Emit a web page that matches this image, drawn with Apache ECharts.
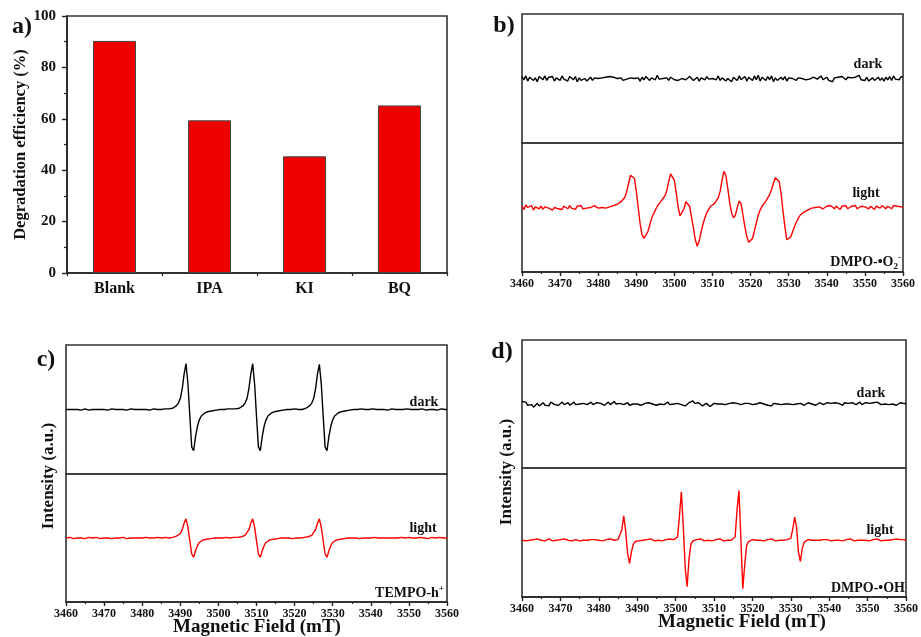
<!DOCTYPE html>
<html>
<head>
<meta charset="utf-8">
<script src="https://cdn.jsdelivr.net/npm/echarts/dist/echarts.min.js"></script>
<style>
html,body{margin:0;padding:0;background:#fff;}
#chart{width:921px;height:637px;}
</style>
</head>
<body>
<div id="chart"></div>
<script>
// ---------- Panel a: degradation efficiency ----------
const scavengers = ['Blank', 'IPA', 'KI', 'BQ'];
const efficiency = [90.3, 59.4, 45.4, 65.2];
const effTicks = [0, 20, 40, 60, 80, 100];

// ---------- EPR spectra: magnetic field grid 3460..3560 mT, step 0.5 ----------
const fieldTicks = [3460, 3470, 3480, 3490, 3500, 3510, 3520, 3530, 3540, 3550, 3560];
const field = [];
for (let k = 0; k <= 200; k++) field.push(3460 + k * 0.5);

// b) DMPO-•O2-  dark
const bDark = [
  0.03,-0.02,0.04,-0.04,0.02,0.05,-0.03,0.01,-0.05,0.03,0.00,-0.02,0.04,-0.03,0.02,-0.01,0.03,-0.04,0.01,0.02,
  -0.03,0.04,-0.01,0.02,-0.04,0.03,0.00,-0.02,0.03,-0.05,0.01,-0.03,-0.02,0.00,-0.04,-0.01,0.02,-0.03,0.01,-0.02,
  0.00,-0.02,0.01,-0.01,0.02,0.00,0.03,0.01,0.02,-0.01,0.00,-0.02,0.01,-0.03,0.00,-0.01,-0.04,0.01,-0.02,0.00,
  -0.03,0.01,-0.04,0.02,-0.02,0.03,0.00,-0.03,0.01,0.04,-0.02,0.05,-0.01,-0.04,0.00,-0.02,0.01,-0.03,0.02,0.00,
  -0.02,0.01,-0.03,-0.01,0.00,0.02,-0.02,0.01,0.03,0.00,-0.03,-0.01,0.02,-0.04,0.01,0.00,-0.02,0.03,-0.01,0.02,
  0.00,0.03,-0.02,0.04,-0.03,0.01,0.02,-0.04,0.00,0.03,-0.05,0.02,0.01,-0.03,0.04,-0.02,0.00,0.03,-0.04,0.02,
  0.01,-0.03,0.04,-0.02,0.05,-0.04,0.02,0.00,-0.03,0.03,-0.02,0.04,-0.05,0.01,-0.03,-0.06,0.02,-0.02,0.03,-0.04,
  0.01,-0.02,0.00,0.02,-0.03,0.01,-0.01,0.00,0.02,-0.02,0.01,-0.01,0.00,0.02,0.03,-0.01,0.01,0.04,-0.02,-0.04,
  0.02,-0.03,0.00,-0.05,0.01,-0.02,0.02,-0.01,0.03,0.00,-0.02,0.02,0.00,0.01,-0.01,0.02,0.03,0.05,-0.02,0.01,
  -0.03,0.02,-0.04,-0.02,0.01,-0.03,-0.01,0.02,-0.03,0.01,-0.04,0.02,-0.02,0.03,-0.03,0.04,-0.01,0.02,-0.02,0.03,
  0.02
];
// b) light
const bLight = [
  0.02,-0.03,0.04,0.00,-0.02,0.03,-0.04,0.01,0.03,-0.02,0.02,-0.03,0.01,0.04,-0.01,0.02,-0.04,0.00,0.03,-0.02,
  0.01,-0.03,0.02,0.00,-0.02,0.03,-0.01,0.01,-0.03,0.02,0.00,0.03,-0.02,0.01,-0.01,0.02,0.00,-0.02,0.03,0.01,
  -0.01,0.02,0.00,0.03,-0.01,0.02,0.01,0.03,0.03,0.02,0.05,0.07,0.09,0.11,0.16,0.25,0.38,0.50,0.53,0.45,
  0.25,0.00,-0.25,-0.42,-0.48,-0.46,-0.38,-0.28,-0.17,-0.10,-0.04,0.02,0.06,0.10,0.14,0.18,0.26,0.40,0.52,0.53,
  0.42,0.22,0.00,-0.13,-0.12,-0.02,0.09,0.11,0.02,-0.15,-0.32,-0.50,-0.60,-0.52,-0.38,-0.26,-0.16,-0.08,-0.03,0.02,
  0.04,0.06,0.09,0.15,0.25,0.42,0.56,0.50,0.30,0.08,-0.08,-0.16,-0.12,0.00,0.10,0.06,-0.12,-0.30,-0.45,-0.54,
  -0.55,-0.48,-0.36,-0.24,-0.12,-0.04,0.02,0.06,0.10,0.15,0.20,0.28,0.38,0.46,0.47,0.40,0.22,-0.05,-0.30,-0.50,
  -0.52,-0.46,-0.38,-0.30,-0.23,-0.17,-0.12,-0.09,-0.07,-0.05,-0.04,-0.03,-0.01,-0.02,0.00,-0.01,0.01,0.00,-0.02,0.01,
  0.02,-0.01,0.03,0.00,-0.02,0.02,0.01,-0.03,0.02,0.00,0.03,-0.02,0.01,0.02,-0.01,0.03,-0.02,0.00,0.02,-0.01,
  0.01,0.03,-0.02,0.02,0.00,-0.03,0.02,0.01,-0.01,0.03,0.00,-0.02,0.02,0.01,-0.02,0.03,0.00,0.02,-0.01,0.01,
  0.00
];
// c) TEMPO-h+  dark
const cDark = [
  0.00,0.01,0.00,-0.01,0.00,0.01,0.00,0.00,-0.01,0.00,0.01,0.00,-0.01,0.00,0.00,0.01,0.00,-0.01,0.00,0.01,
  0.00,0.00,-0.01,0.00,0.01,0.00,0.00,-0.01,0.00,0.01,0.00,0.00,-0.01,0.00,0.01,0.00,0.00,0.01,0.00,-0.01,
  0.00,0.01,0.00,0.00,-0.01,0.00,0.01,0.00,0.00,0.01,0.00,0.00,0.01,0.00,0.01,0.01,0.02,0.04,0.06,0.10,
  0.17,0.32,0.55,0.71,0.40,-0.10,-0.58,-0.64,-0.42,-0.26,-0.16,-0.10,-0.07,-0.05,-0.04,-0.03,-0.03,-0.02,-0.02,-0.01,
  -0.01,0.00,-0.01,0.00,0.00,0.01,0.00,0.01,0.01,0.01,0.01,0.02,0.04,0.06,0.10,0.17,0.32,0.55,0.71,0.40,
  -0.10,-0.58,-0.64,-0.42,-0.26,-0.16,-0.10,-0.07,-0.05,-0.04,-0.03,-0.03,-0.02,-0.02,-0.01,-0.01,0.00,-0.01,0.00,0.00,
  0.01,0.00,0.00,0.01,0.00,0.01,0.02,0.04,0.06,0.10,0.17,0.32,0.55,0.70,0.40,-0.10,-0.58,-0.64,-0.42,-0.26,
  -0.16,-0.10,-0.07,-0.05,-0.04,-0.03,-0.03,-0.02,-0.02,-0.01,-0.01,0.00,-0.01,0.00,0.00,0.01,0.00,0.00,-0.01,0.00,
  0.00,0.01,0.00,0.00,-0.01,0.00,0.01,0.00,0.00,-0.01,0.00,0.01,0.00,0.00,0.01,0.00,-0.01,0.00,0.00,0.01,
  0.00,0.00,-0.01,0.00,0.01,0.00,0.00,0.01,0.00,-0.01,0.00,0.00,0.01,0.00,0.00,-0.01,0.00,0.01,0.00,0.00,
  0.00
];
// c) light
const cLight = [
  0.00,0.00,0.01,0.00,-0.01,0.00,0.00,0.01,0.00,0.00,-0.01,0.00,0.01,0.00,0.00,0.00,0.01,0.00,-0.01,0.00,
  0.00,0.01,0.00,0.00,-0.01,0.00,0.00,0.01,0.00,0.00,0.01,0.00,-0.01,0.00,0.00,0.01,0.00,0.00,0.00,-0.01,
  0.00,0.00,0.01,0.00,0.00,-0.01,0.00,0.00,0.01,0.00,0.00,0.00,0.01,0.00,0.00,0.01,0.01,0.02,0.03,0.04,
  0.07,0.13,0.23,0.30,0.17,-0.04,-0.25,-0.30,-0.20,-0.12,-0.07,-0.05,-0.03,-0.02,-0.02,-0.01,-0.01,-0.01,0.00,0.00,
  0.00,-0.01,0.00,0.00,0.01,0.00,0.00,0.00,0.01,0.00,0.01,0.01,0.02,0.03,0.04,0.07,0.13,0.23,0.30,0.17,
  -0.04,-0.25,-0.30,-0.20,-0.12,-0.07,-0.05,-0.03,-0.02,-0.02,-0.01,-0.01,-0.01,0.00,0.00,0.00,0.01,0.00,0.00,-0.01,
  0.00,0.00,0.01,0.00,0.00,0.01,0.01,0.02,0.03,0.04,0.07,0.13,0.23,0.30,0.17,-0.04,-0.25,-0.30,-0.20,-0.12,
  -0.07,-0.05,-0.03,-0.02,-0.02,-0.01,-0.01,-0.01,0.00,0.00,0.00,0.01,0.00,0.00,-0.01,0.00,0.00,0.01,0.00,0.00,
  0.00,0.00,0.01,0.00,0.00,-0.01,0.00,0.01,0.00,0.00,0.00,0.01,0.00,-0.01,0.00,0.00,0.01,0.00,0.00,0.00,
  0.01,0.00,0.00,-0.01,0.00,0.00,0.01,0.00,0.00,0.00,-0.01,0.00,0.01,0.00,0.00,0.00,0.01,0.00,0.00,0.00,
  0.00
];
// d) DMPO-•OH  dark
const dDark = [
  0.04,0.01,0.03,-0.02,-0.04,-0.01,-0.05,-0.02,0.01,-0.03,0.00,0.02,-0.02,0.01,-0.03,0.03,0.00,-0.01,0.02,-0.02,
  0.01,0.03,-0.01,0.00,0.02,-0.02,0.01,0.03,-0.01,0.02,0.00,-0.02,0.01,0.02,-0.01,0.00,0.03,-0.01,0.01,0.02,
  -0.01,0.01,0.02,-0.02,0.00,0.03,-0.01,0.01,0.04,0.00,-0.02,0.01,0.03,-0.01,0.00,0.02,-0.02,0.01,0.00,0.02,
  0.00,0.01,-0.02,0.00,0.01,-0.01,0.02,-0.01,0.00,0.02,-0.02,-0.03,0.00,0.02,-0.01,0.01,0.03,-0.01,0.02,0.00,
  -0.02,0.01,0.03,-0.01,0.02,-0.03,0.00,0.02,-0.01,0.05,0.01,-0.02,0.02,0.00,-0.03,-0.01,0.01,-0.02,-0.04,-0.01,
  0.01,-0.02,0.00,0.02,0.00,0.01,-0.01,0.02,0.01,-0.01,0.02,0.00,0.01,0.02,-0.01,0.00,0.01,-0.02,0.01,0.00,
  -0.01,0.02,0.00,0.01,0.02,-0.01,0.00,-0.03,-0.02,0.00,-0.03,0.01,-0.01,0.00,0.02,-0.01,0.01,0.00,-0.02,0.00,
  0.01,-0.01,0.02,0.00,-0.01,0.01,0.00,-0.02,0.01,0.02,-0.01,0.00,0.01,-0.02,0.00,0.02,0.01,-0.01,0.00,0.02,
  -0.01,0.01,0.00,0.02,-0.01,0.01,0.00,-0.02,0.02,0.00,0.01,-0.01,0.02,0.00,-0.01,0.01,0.03,-0.01,0.00,0.02,
  0.00,0.01,-0.01,0.02,0.01,0.03,0.00,-0.01,0.02,0.00,0.01,-0.01,0.02,0.00,0.01,-0.02,0.01,0.02,0.00,0.01,
  0.00
];
// d) light
const dLight = [
  -0.12,-0.10,-0.13,-0.11,-0.12,-0.14,-0.11,-0.12,-0.10,-0.13,-0.12,-0.11,-0.13,-0.12,-0.10,-0.12,-0.13,-0.11,-0.12,-0.13,
  -0.11,-0.12,-0.10,-0.13,-0.12,-0.11,-0.13,-0.12,-0.11,-0.12,-0.13,-0.11,-0.12,-0.10,-0.12,-0.13,-0.11,-0.12,-0.11,-0.13,
  -0.12,-0.11,-0.13,-0.12,-0.11,-0.12,-0.10,-0.11,-0.12,-0.11,-0.11,-0.09,0.04,0.26,0.02,-0.32,-0.48,-0.30,-0.18,-0.14,
  -0.12,-0.13,-0.11,-0.12,-0.13,-0.11,-0.12,-0.10,-0.12,-0.13,-0.11,-0.12,-0.11,-0.13,-0.12,-0.11,-0.12,-0.10,-0.12,-0.11,
  -0.11,-0.07,0.25,0.63,0.10,-0.55,-0.84,-0.40,-0.18,-0.13,-0.12,-0.11,-0.12,-0.10,-0.12,-0.13,-0.11,-0.12,-0.11,-0.13,
  -0.12,-0.11,-0.12,-0.10,-0.12,-0.13,-0.11,-0.12,-0.11,-0.12,-0.11,-0.07,0.35,0.65,-0.10,-0.87,-0.50,-0.20,-0.14,-0.12,
  -0.11,-0.13,-0.12,-0.10,-0.12,-0.11,-0.13,-0.12,-0.11,-0.12,-0.10,-0.12,-0.13,-0.11,-0.12,-0.11,-0.12,-0.13,-0.11,-0.12,
  -0.09,0.05,0.24,0.08,-0.30,-0.45,-0.24,-0.15,-0.12,-0.11,-0.13,-0.12,-0.11,-0.12,-0.10,-0.12,-0.13,-0.11,-0.12,-0.11,
  -0.12,-0.13,-0.11,-0.12,-0.10,-0.12,-0.11,-0.13,-0.12,-0.11,-0.12,-0.10,-0.12,-0.13,-0.11,-0.12,-0.11,-0.12,-0.10,-0.12,
  -0.11,-0.13,-0.12,-0.11,-0.12,-0.10,-0.12,-0.13,-0.11,-0.12,-0.11,-0.12,-0.13,-0.11,-0.12,-0.10,-0.12,-0.11,-0.12,-0.11,
  -0.12
];

// ---------- styling ----------
const SERIF = '"Liberation Serif", "Times New Roman", serif';
const AXIS_COLOR = '#222';
const FRAME = '#333';
const DARK_COLOR = '#000000';
const LIGHT_COLOR = '#ff0000';

const pair = (ys) => field.map((x, i) => [x, ys[i]]);

// grids: 0 a, 1 b-top, 2 b-bottom, 3 c-top, 4 c-bottom, 5 d-top, 6 d-bottom
const gridBox = (left, top, width, height) => ({
  left, top, width, height, show: true, borderColor: FRAME, borderWidth: 1.6, backgroundColor: 'transparent'
});
const grids = [
  gridBox(67, 16, 380, 257),
  gridBox(522, 14, 381, 129), gridBox(522, 143, 381, 129),
  gridBox(66, 345, 381, 129), gridBox(66, 474, 381, 128),
  gridBox(522, 340, 384, 128), gridBox(522, 468, 384, 129)
];

function fieldAxis(gridIndex, showLabels) {
  return {
    type: 'value', gridIndex, min: 3460, max: 3560, interval: 10,
    show: showLabels, position: 'bottom',
    axisLine: { show: true, onZero: false, lineStyle: { color: AXIS_COLOR, width: 1.6 } },
    axisTick: { show: true, inside: false, length: 4, lineStyle: { color: AXIS_COLOR, width: 1.4 } },
    minorTick: { show: true, splitNumber: 2, length: 2, lineStyle: { color: AXIS_COLOR, width: 1.2 } },
    splitLine: { show: false },
    axisLabel: { show: showLabels, margin: 6, color: '#111', fontFamily: SERIF, fontWeight: 'bold', fontSize: 12,
      formatter: (v) => fieldTicks.includes(v) ? String(v) : '' }
  };
}
function intensityAxis(gridIndex) {
  return { type: 'value', gridIndex, min: -1, max: 1, show: false, splitLine: { show: false } };
}

const xAxes = [
  {
    type: 'category', gridIndex: 0, data: scavengers,
    axisLine: { onZero: false, lineStyle: { color: AXIS_COLOR, width: 1.6 } },
    axisTick: { alignWithLabel: true, length: 5, lineStyle: { color: AXIS_COLOR, width: 1.4 } },
    axisLabel: { margin: 8, color: '#111', fontFamily: SERIF, fontWeight: 'bold', fontSize: 16 }
  },
  {
    type: 'category', gridIndex: 0, data: scavengers, position: 'bottom',
    axisLine: { show: false, onZero: false },
    axisTick: { show: true, length: 3, lineStyle: { color: AXIS_COLOR, width: 1.2 } },
    axisLabel: { show: false }
  },
  fieldAxis(1, false), fieldAxis(2, true),
  fieldAxis(3, false), fieldAxis(4, true),
  fieldAxis(5, false), fieldAxis(6, true)
];

const yAxes = [
  {
    type: 'value', gridIndex: 0, min: effTicks[0], max: effTicks[effTicks.length - 1], interval: 20,
    name: 'Degradation efficiency (%)', nameLocation: 'middle', nameGap: 33, nameRotate: 90,
    nameTextStyle: { fontFamily: SERIF, fontWeight: 'bold', fontSize: 16.5, color: '#111' },
    axisLine: { show: true, onZero: false, lineStyle: { color: AXIS_COLOR, width: 1.6 } },
    axisTick: { show: true, inside: false, length: 5, lineStyle: { color: AXIS_COLOR, width: 1.4 } },
    minorTick: { show: true, splitNumber: 2, length: 3, lineStyle: { color: AXIS_COLOR, width: 1.2 } },
    splitLine: { show: false },
    axisLabel: { margin: 11, color: '#111', fontFamily: SERIF, fontWeight: 'bold', fontSize: 15 }
  },
  intensityAxis(1), intensityAxis(2), intensityAxis(3), intensityAxis(4), intensityAxis(5), intensityAxis(6)
];

function trace(name, ys, axisIdx, color) {
  return {
    name, type: 'line', xAxisIndex: axisIdx + 1, yAxisIndex: axisIdx, data: pair(ys),
    showSymbol: false, symbol: 'none', silent: true, animation: false,
    lineStyle: { color, width: 1.4 }, itemStyle: { color }
  };
}

const series = [
  {
    name: 'Degradation efficiency', type: 'bar', xAxisIndex: 0, yAxisIndex: 0,
    data: efficiency, barWidth: 43, animation: false,
    itemStyle: { color: '#ee0000', borderColor: '#444', borderWidth: 1 }
  },
  trace('b dark', bDark, 1, DARK_COLOR),
  trace('b light', bLight, 2, LIGHT_COLOR),
  trace('c dark', cDark, 3, DARK_COLOR),
  trace('c light', cLight, 4, LIGHT_COLOR),
  trace('d dark', dDark, 5, DARK_COLOR),
  trace('d light', dLight, 6, LIGHT_COLOR)
];

function txt(text, x, y, size, align, extra) {
  return Object.assign({
    type: 'text', x, y, z: 100,
    style: { text, fill: '#111', font: 'bold ' + size + 'px ' + SERIF, textAlign: align || 'center', textVerticalAlign: 'middle' }
  }, extra || {});
}
function richTxt(text, x, y, rich) {
  return {
    type: 'text', x, y, z: 100,
    style: { text, rich, fill: '#111', font: 'bold 14px ' + SERIF, textAlign: 'right', textVerticalAlign: 'middle' }
  };
}
const richBase = {
  m: { fontFamily: SERIF, fontWeight: 'bold', fontSize: 14, color: '#111', lineHeight: 18 },
  sub: { fontFamily: SERIF, fontWeight: 'bold', fontSize: 9, color: '#111', verticalAlign: 'bottom', lineHeight: 18, padding: [6, 0, 0, 0] },
  sup: { fontFamily: SERIF, fontWeight: 'bold', fontSize: 9, color: '#111', verticalAlign: 'top', lineHeight: 18, padding: [0, 0, 8, 0] }
};

const graphics = [
  txt('a)', 22, 27, 24),
  txt('b)', 504, 26, 24),
  txt('c)', 46, 360, 24),
  txt('d)', 502, 352, 24),
  txt('dark', 868, 64, 14),
  txt('light', 866, 193, 14),
  richTxt('{m|DMPO-•O}{sub|2}{sup|-}', 901, 262, richBase),
  txt('dark', 424, 402, 14),
  txt('light', 423, 528, 14),
  richTxt('{m|TEMPO-h}{sup|+}', 444, 593, richBase),
  txt('dark', 871, 393, 14),
  txt('light', 880, 530, 14),
  txt('DMPO-•OH', 905, 588, 14, 'right'),
  txt('Magnetic Field (mT)', 257, 627, 19),
  txt('Magnetic Field (mT)', 742, 622, 19),
  txt('Intensity (a.u.)', 49, 476, 17, 'center', { rotation: Math.PI / 2 }),
  txt('Intensity (a.u.)', 507, 472, 17, 'center', { rotation: Math.PI / 2 })
];

const chart = echarts.init(document.getElementById('chart'), null, { renderer: 'canvas' });
chart.setOption({
  backgroundColor: '#ffffff',
  animation: false,
  grid: grids,
  xAxis: xAxes,
  yAxis: yAxes,
  series,
  graphic: graphics
});
</script>
</body>
</html>
